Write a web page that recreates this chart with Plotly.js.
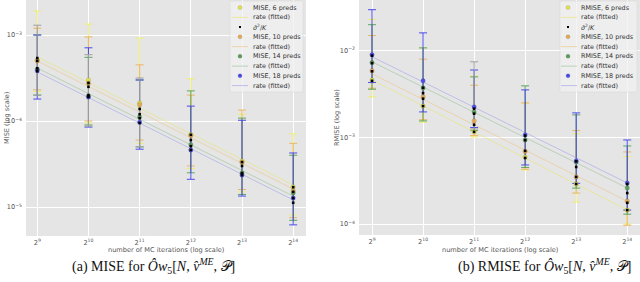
<!DOCTYPE html>
<html><head><meta charset="utf-8">
<script src="https://cdn.plot.ly/plotly-3.0.1.min.js"></script>
<style>html,body{margin:0;padding:0;background:#fff}#chart{width:640px;height:282px}</style>
</head><body><div id="chart"></div>
<script>
// ---------- data ----------
const iterations = [512, 1024, 2048, 4096, 8192, 16384];
const iterationTicks = ['2<sup>9</sup>','2<sup>10</sup>','2<sup>11</sup>','2<sup>12</sup>','2<sup>13</sup>','2<sup>14</sup>'];
const predCounts = [6, 10, 14, 18];

// MISE panel
const mise6    = [5.1e-4, 3.0e-4, 1.62e-4, 6.9e-5, 3.4e-5, 1.71e-5];
const mise6Hi  = [1.9e-3, 1.34e-3, 9.2e-4, 3.1e-4, 1.2e-4, 7.1e-5];
const mise6Lo  = [2.2e-4, 9.5e-5, 5.5e-5, 2.8e-5, 1.5e-5, 8.1e-6];
const mise10   = [5.0e-4, 2.75e-4, 1.55e-4, 6.8e-5, 3.3e-5, 1.54e-5];
const mise10Hi = [1.2e-3, 9.5e-4, 4.5e-4, 2.0e-4, 1.34e-4, 5.5e-5];
const mise10Lo = [2.3e-4, 1.0e-4, 6.0e-5, 3.0e-5, 1.6e-5, 7.5e-6];
const mise14   = [4.0e-4, 1.95e-4, 1.11e-4, 5.3e-5, 2.48e-5, 1.46e-5];
const mise14Hi = [1.0e-3, 5.5e-4, 3.0e-4, 2.24e-4, 1.08e-4, 4.0e-5];
const mise14Lo = [2.0e-4, 9.0e-5, 5.0e-5, 2.5e-5, 1.4e-5, 7.0e-6];
const mise18   = [3.85e-4, 1.9e-4, 9.7e-5, 4.6e-5, 2.35e-5, 1.27e-5];
const mise18Hi = [1.0e-3, 7.1e-4, 3.0e-4, 1.49e-4, 1.02e-4, 4.25e-5];
const mise18Lo = [1.8e-4, 8.5e-5, 4.7e-5, 2.1e-5, 1.34e-5, 6.2e-6];
const miseSigma6  = [5.4e-4, 2.77e-4, 1.38e-4, 6.9e-5, 3.33e-5, 1.7e-5];
const miseSigma10 = [5.0e-4, 2.5e-4, 1.2e-4, 6.0e-5, 3.0e-5, 1.5e-5];
const miseSigma14 = [4.1e-4, 2.0e-4, 1.08e-4, 5.1e-5, 2.48e-5, 1.27e-5];
const miseSigma18 = [3.8e-4, 1.9e-4, 9.5e-5, 4.6e-5, 2.35e-5, 1.12e-5];
const miseSpreadHi = [1.3e-3, 5.9e-4, 3.16e-4, null, null, null];
const miseSpreadLo = [2.0e-4, 8.7e-5, 5.0e-5, null, null, null];
const miseFit6  = [5.55e-4, 1.80e-5];
const miseFit10 = [4.99e-4, 1.62e-5];
const miseFit14 = [4.13e-4, 1.34e-5];
const miseFit18 = [3.72e-4, 1.21e-5];

// RMISE panel
const rmise6    = [4.6e-3, 2.31e-3, 1.16e-3, 5.95e-4, 2.9e-4, 1.45e-4];
const rmise6Hi  = [2.3e-2, 1.08e-2, 5.1e-3, 2.5e-3, 1.1e-3, 6.0e-4];
const rmise6Lo  = [2.94e-3, 1.5e-3, 1.01e-3, 4.21e-4, 1.8e-4, 1.0e-4];
const rmise10   = [5.9e-3, 2.94e-3, 1.55e-3, 6.9e-4, 3.49e-4, 1.84e-4];
const rmise10Hi = [1.5e-2, 8.0e-3, 4.0e-3, 2.5e-3, 1.2e-3, 6.8e-4];
const rmise10Lo = [3.7e-3, 1.6e-3, 1.05e-3, 4.3e-4, 2.28e-4, 9.7e-5];
const rmise14   = [7.3e-3, 3.73e-3, 1.97e-3, 9.36e-4, 5.2e-4, 2.61e-4];
const rmise14Hi = [2.0e-2, 1.08e-2, 5.0e-3, 3.94e-3, 1.82e-3, 7.97e-4];
const rmise14Lo = [3.6e-3, 1.55e-3, 1.2e-3, 4.5e-4, 2.6e-4, 1.3e-4];
const rmise18   = [9.0e-3, 4.5e-3, 2.25e-3, 1.07e-3, 5.35e-4, 2.98e-4];
const rmise18Hi = [2.98e-2, 1.61e-2, 6.0e-3, 3.54e-3, 1.92e-3, 9.35e-4];
const rmise18Lo = [4.3e-3, 1.97e-3, 1.3e-3, 4.81e-4, 2.95e-4, 1.45e-4];
const rmiseSigma6  = [4.5e-3, 2.3e-3, 1.16e-3, 5.8e-4, 2.9e-4, 1.45e-4];
const rmiseSigma10 = [5.8e-3, 2.8e-3, 1.4e-3, 7.0e-4, 3.5e-4, 1.76e-4];
const rmiseSigma14 = [7.2e-3, 3.25e-3, 1.88e-3, 9.3e-4, 4.56e-4, 2.28e-4];
const rmiseSigma18 = [8.8e-3, 3.75e-3, 2.15e-3, 1.05e-3, 5.3e-4, 2.9e-4];
const rmiseSpreadHi = [null, null, 7.46e-3, null, null, null];
const rmiseSpreadLo = [null, null, 1.25e-3, null, null, null];
const rmiseFit6  = [4.62e-3, 1.45e-4];
const rmiseFit10 = [5.42e-3, 1.84e-4];
const rmiseFit14 = [7.46e-3, 2.61e-4];
const rmiseFit18 = [8.53e-3, 2.98e-4];

const legendKinds  = ['marker','line','sigma','marker','line','marker','line','marker','line'];
const legendColorIdx = [0,0,-1,1,1,2,2,3,3];
const miseLegend  = ['MISE, 6 preds','rate (fitted)','<i>σ̂</i><sup>2</sup>/<i>K</i>','MISE, 10 preds','rate (fitted)','MISE, 14 preds','rate (fitted)','MISE, 18 preds','rate (fitted)'];
const rmiseLegend = ['RMISE, 6 preds','rate (fitted)','<i>σ̂</i><sup>2</sup>/<i>K</i>','RMISE, 10 preds','rate (fitted)','RMISE, 14 preds','rate (fitted)','RMISE, 18 preds','rate (fitted)'];

// ---------- styles ----------
const W = 640, H = 282;
const px = x => x / W, py = y => 1 - y / H;
const seriesColors = ['#e4e448', '#e8aa50', '#5a9e5a', '#4a4aee'];
const barColors    = ['rgba(240,240,90,0.85)', 'rgba(236,176,88,0.9)', 'rgba(80,160,80,0.9)', 'rgba(60,60,238,0.9)'];
const fitColors    = ['rgba(235,228,90,0.55)', 'rgba(235,185,90,0.45)', 'rgba(90,160,90,0.35)', 'rgba(130,130,235,0.45)'];

function buildPanel(xa, ya, vals, his, los, sigmas, spreadHi, spreadLo, fits) {
  const tr = [];
  vals.forEach((v, k) => {
    tr.push({type:'scatter', mode:'markers', x:iterations, y:v, xaxis:xa, yaxis:ya,
      showlegend:false, hoverinfo:'skip', marker:{size:1, opacity:0},
      error_y:{type:'data', symmetric:false,
        array:v.map((d,i)=>his[k][i]-d), arrayminus:v.map((d,i)=>d-los[k][i]),
        color:barColors[k], thickness:1, width:4}});
  });
  const sy = spreadHi.map((h,i)=> h === null ? null : sigmas[1][i]);
  tr.push({type:'scatter', mode:'markers', x:iterations, y:sy, xaxis:xa, yaxis:ya,
    showlegend:false, hoverinfo:'skip', marker:{size:1, opacity:0},
    error_y:{type:'data', symmetric:false,
      array:spreadHi.map((h,i)=> h === null ? 0 : h - sy[i]),
      arrayminus:spreadLo.map((l,i)=> l === null ? 0 : sy[i] - l),
      color:'#a0a0a0', thickness:1, width:4}});
  fits.forEach((f, k) => {
    tr.push({type:'scatter', mode:'lines', x:[iterations[0], iterations[iterations.length-1]], y:f,
      xaxis:xa, yaxis:ya, showlegend:false, hoverinfo:'skip',
      line:{color:fitColors[k], width:0.9}});
  });
  vals.forEach((v, k) => {
    tr.push({type:'scatter', mode:'markers', x:iterations, y:v, xaxis:xa, yaxis:ya,
      showlegend:false, hoverinfo:'skip',
      marker:{size:4.5, color:seriesColors[k], opacity:0.9, line:{width:0.4, color:'rgba(0,0,0,0.3)'}}});
  });
  sigmas.forEach(s => {
    tr.push({type:'scatter', mode:'markers', x:iterations, y:s, xaxis:xa, yaxis:ya,
      showlegend:false, hoverinfo:'skip',
      marker:{symbol:'square', size:2.6, color:'#000'}});
  });
  return tr;
}

const traces = [].concat(
  buildPanel('x','y',
    [mise6, mise10, mise14, mise18], [mise6Hi, mise10Hi, mise14Hi, mise18Hi], [mise6Lo, mise10Lo, mise14Lo, mise18Lo],
    [miseSigma6, miseSigma10, miseSigma14, miseSigma18], miseSpreadHi, miseSpreadLo,
    [miseFit6, miseFit10, miseFit14, miseFit18]),
  buildPanel('x2','y2',
    [rmise6, rmise10, rmise14, rmise18], [rmise6Hi, rmise10Hi, rmise14Hi, rmise18Hi], [rmise6Lo, rmise10Lo, rmise14Lo, rmise18Lo],
    [rmiseSigma6, rmiseSigma10, rmiseSigma14, rmiseSigma18], rmiseSpreadHi, rmiseSpreadLo,
    [rmiseFit6, rmiseFit10, rmiseFit14, rmiseFit18])
);

// ---------- custom compact legends ----------
const shapes = [], annotations = [];
function addLegend(labels, boxL, boxR, symX, lineL, lineR, textX) {
  shapes.push({type:'rect', xref:'paper', yref:'paper', x0:px(boxL), x1:px(boxR), y0:py(92), y1:py(1),
    fillcolor:'rgba(240,240,240,0.75)', line:{color:'rgba(210,210,210,0.8)', width:0.6}, layer:'above'});
  labels.forEach((lab, i) => {
    const cy = 7.6 + i * 9.75;
    const kind = legendKinds[i], ci = legendColorIdx[i];
    if (kind === 'marker') {
      shapes.push({type:'circle', xref:'paper', yref:'paper', xsizemode:'pixel', ysizemode:'pixel',
        xanchor:px(symX), yanchor:py(cy), x0:-2, x1:2, y0:-2, y1:2,
        fillcolor:seriesColors[ci], line:{color:'rgba(0,0,0,0.3)', width:0.4}, layer:'above'});
    } else if (kind === 'sigma') {
      shapes.push({type:'rect', xref:'paper', yref:'paper', xsizemode:'pixel', ysizemode:'pixel',
        xanchor:px(symX), yanchor:py(cy), x0:-1, x1:1, y0:-1, y1:1,
        fillcolor:'#000', line:{width:0}, layer:'above'});
    } else {
      shapes.push({type:'line', xref:'paper', yref:'paper', x0:px(lineL), x1:px(lineR), y0:py(cy), y1:py(cy),
        line:{color:fitColors[ci], width:1}, layer:'above'});
    }
    annotations.push({xref:'paper', yref:'paper', x:px(textX), y:py(cy), xanchor:'left', yanchor:'middle',
      text:lab, showarrow:false, font:{family:'DejaVu Sans', size:6.4, color:'#333'}});
  });
}
addLegend(miseLegend, 230, 303, 240, 232, 248, 251);
addLegend(rmiseLegend, 560, 637, 568, 561, 577, 579);

// axis titles & captions
const axFont = {family:'DejaVu Sans', size:6.6, color:'#555'};
annotations.push({xref:'paper', yref:'paper', x:px(166), y:py(249.5), text:'number of MC iterations (log scale)', showarrow:false, font:axFont, xanchor:'center', yanchor:'middle'});
annotations.push({xref:'paper', yref:'paper', x:px(500), y:py(249.5), text:'number of MC iterations (log scale)', showarrow:false, font:axFont, xanchor:'center', yanchor:'middle'});
annotations.push({xref:'paper', yref:'paper', x:px(7), y:py(118), text:'MISE (log scale)', textangle:-90, showarrow:false, font:axFont, xanchor:'center', yanchor:'middle'});
annotations.push({xref:'paper', yref:'paper', x:px(337), y:py(118), text:'RMISE (log scale)', textangle:-90, showarrow:false, font:axFont, xanchor:'center', yanchor:'middle'});
const capFont = {family:'Liberation Serif, DejaVu Serif, serif', size:14, color:'#111'};
const capTail = ' for <i>Ô</i><i>w</i><sub>5</sub>[<i>N</i>, <i>v̂</i><sup><i>ME</i></sup>, \u{1D4AB}]';
annotations.push({xref:'paper', yref:'paper', x:px(153), y:py(266), text:'(a) MISE' + capTail, showarrow:false, font:capFont, xanchor:'center', yanchor:'middle'});
annotations.push({xref:'paper', yref:'paper', x:px(544), y:py(266), text:'(b) RMISE' + capTail, showarrow:false, font:capFont, xanchor:'center', yanchor:'middle'});

const L2 = Math.log10(2);
const tickFont = {family:'DejaVu Sans', size:6.6, color:'#555'};
const baseX = {type:'log', tickvals:iterations, ticktext:iterationTicks, showgrid:true, gridcolor:'#ffffff', gridwidth:1,
  zeroline:false, showline:false, ticks:'', tickfont:tickFont, automargin:false, ticklabelstandoff:1};
const baseY = {type:'log', showgrid:true, gridcolor:'#ffffff', gridwidth:1, zeroline:false, showline:false,
  ticks:'', tickfont:tickFont, automargin:false, ticklabelstandoff:3};

const layout = {
  width:W, height:H, margin:{l:0, r:0, t:0, b:0},
  paper_bgcolor:'#ffffff', plot_bgcolor:'#e5e5e5', showlegend:false,
  xaxis: Object.assign({}, baseX, {domain:[px(26), px(306)], range:[8.78*L2, 14.25*L2], anchor:'y'}),
  yaxis: Object.assign({}, baseY, {domain:[py(236), 1], range:[-5.337, -2.593], anchor:'x',
    tickvals:[1e-5, 1e-4, 1e-3], ticktext:['10<sup>−5</sup>','10<sup>−4</sup>','10<sup>−3</sup>']}),
  xaxis2: Object.assign({}, baseX, {domain:[px(359), 1], range:[8.745*L2, 14.25*L2], anchor:'y2'}),
  yaxis2: Object.assign({}, baseY, {domain:[py(235), 1], range:[-4.126, -1.414], anchor:'x2',
    tickvals:[1e-4, 1e-3, 1e-2], ticktext:['10<sup>−4</sup>','10<sup>−3</sup>','10<sup>−2</sup>']}),
  shapes, annotations
};

Plotly.newPlot('chart', traces, layout, {staticPlot:true, displayModeBar:false});
</script>
</body></html>
